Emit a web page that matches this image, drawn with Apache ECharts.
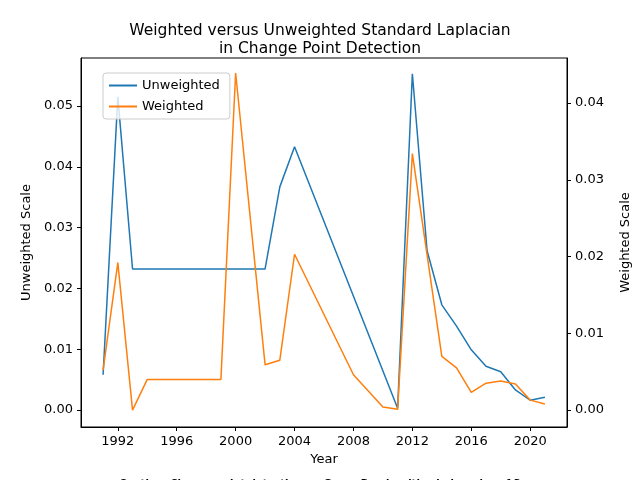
<!DOCTYPE html>
<html>
<head>
<meta charset="utf-8">
<script src="https://cdn.jsdelivr.net/npm/echarts@6/dist/echarts.min.js"></script>
<style>html,body{margin:0;padding:0;background:#fff;overflow:hidden}#main{width:640px;height:480px}</style>
</head>
<body>
<div id="main"></div>
<script>
// series data
var unwYears = [1991, 1992, 1993, 1994, 1995, 1996, 1997, 1998, 1999, 2000, 2001, 2002, 2003, 2004, 2011, 2012, 2013, 2014, 2015, 2016, 2017, 2018, 2019, 2020, 2021];
var unwValues = [0.0058, 0.0515, 0.0232, 0.0232, 0.0232, 0.0232, 0.0232, 0.0232, 0.0232, 0.0232, 0.0232, 0.0232, 0.0367, 0.0433, 0.0003, 0.0553, 0.0262, 0.0173, 0.0138, 0.0099, 0.0072, 0.0063, 0.0033, 0.0016, 0.0021];
var wYears = [1991, 1992, 1993, 1994, 1995, 1996, 1997, 1998, 1999, 2000, 2002, 2003, 2004, 2008, 2010, 2011, 2012, 2014, 2015, 2016, 2017, 2018, 2019, 2020, 2021];
var wValues = [0.0052, 0.0192, 0.0, 0.0040, 0.0040, 0.0040, 0.0040, 0.0040, 0.0040, 0.0439, 0.0059, 0.0065, 0.0203, 0.0046, 0.0004, 0.0001, 0.0334, 0.0070, 0.0055, 0.0023, 0.0035, 0.0038, 0.0034, 0.0013, 0.0008];
var xTicks = [1992, 1996, 2000, 2004, 2008, 2012, 2016, 2020];
var leftTicks = [0, 0.01, 0.02, 0.03, 0.04, 0.05];
var rightTicks = [0, 0.01, 0.02, 0.03, 0.04];

var pair = function (xs, ys) {
  var res = [];
  for (var i = 0; i < xs.length; i++) res.push([xs[i], ys[i]]);
  return res;
};

var font = 'DejaVu Sans';
var lbl = function (ticks, fmt) {
  return {color: '#000', fontSize: 13, fontFamily: font, customValues: ticks, formatter: fmt};
};
var tick = function (ticks) {
  return {show: true, length: 4, lineStyle: {color: '#000'}, customValues: ticks};
};
var line = {show: true, onZero: false, lineStyle: {color: '#000'}};
var nameStyle = {color: '#000', fontSize: 13, fontFamily: font};
var fmt2 = function (v) { return v.toFixed(2); };

var chart = echarts.init(document.getElementById('main'));
chart.setOption({
  backgroundColor: '#fff',
  animation: false,
  title: [{
    text: 'Weighted versus Unweighted Standard Laplacian\nin Change Point Detection',
    left: 'center', top: 17,
    textStyle: {fontSize: 15.5, fontWeight: 'normal', color: '#000', fontFamily: font, lineHeight: 18}
  }, {
    text: 'Caption: Change point detection on Green Bonds with window size of 3',
    left: 'center', top: 474,
    textStyle: {fontSize: 10, fontWeight: 'bold', color: '#000', fontFamily: font}
  }],
  legend: {
    orient: 'vertical', left: 103, top: 73,
    itemWidth: 28, itemHeight: 2, itemGap: 8,
    padding: [6, 10, 6, 6],
    borderColor: '#ccc', borderWidth: 1, borderRadius: 3, backgroundColor: 'rgba(255,255,255,0.8)',
    textStyle: {fontSize: 13, color: '#000', fontFamily: font},
    data: [{name: 'Unweighted', icon: 'rect'}, {name: 'Weighted', icon: 'rect'}]
  },
  grid: {left: 81, right: 65, top: 58, bottom: 53, show: true, borderColor: '#000', borderWidth: 1},
  xAxis: {
    type: 'value', min: 1989.5, max: 2022.5,
    name: 'Year', nameLocation: 'middle', nameGap: 26, nameTextStyle: nameStyle,
    axisLine: line, splitLine: {show: false},
    axisLabel: lbl(xTicks, function (v) { return String(v); }),
    axisTick: tick(xTicks)
  },
  yAxis: [{
    type: 'value', min: -0.0028, max: 0.0579,
    name: 'Unweighted Scale', nameLocation: 'middle', nameGap: 46, nameTextStyle: nameStyle,
    axisLine: line, splitLine: {show: false},
    axisLabel: lbl(leftTicks, fmt2),
    axisTick: tick(leftTicks)
  }, {
    type: 'value', min: -0.0022, max: 0.04586, position: 'right',
    name: 'Weighted Scale', nameLocation: 'middle', nameGap: 52, nameTextStyle: nameStyle,
    axisLine: line, splitLine: {show: false},
    axisLabel: lbl(rightTicks, fmt2),
    axisTick: tick(rightTicks)
  }],
  series: [{
    name: 'Unweighted', type: 'line', yAxisIndex: 0, showSymbol: false,
    color: '#1f77b4', lineStyle: {width: 1.5},
    data: pair(unwYears, unwValues)
  }, {
    name: 'Weighted', type: 'line', yAxisIndex: 1, showSymbol: false,
    color: '#ff7f0e', lineStyle: {width: 1.5},
    data: pair(wYears, wValues)
  }]
});
</script>
</body>
</html>
